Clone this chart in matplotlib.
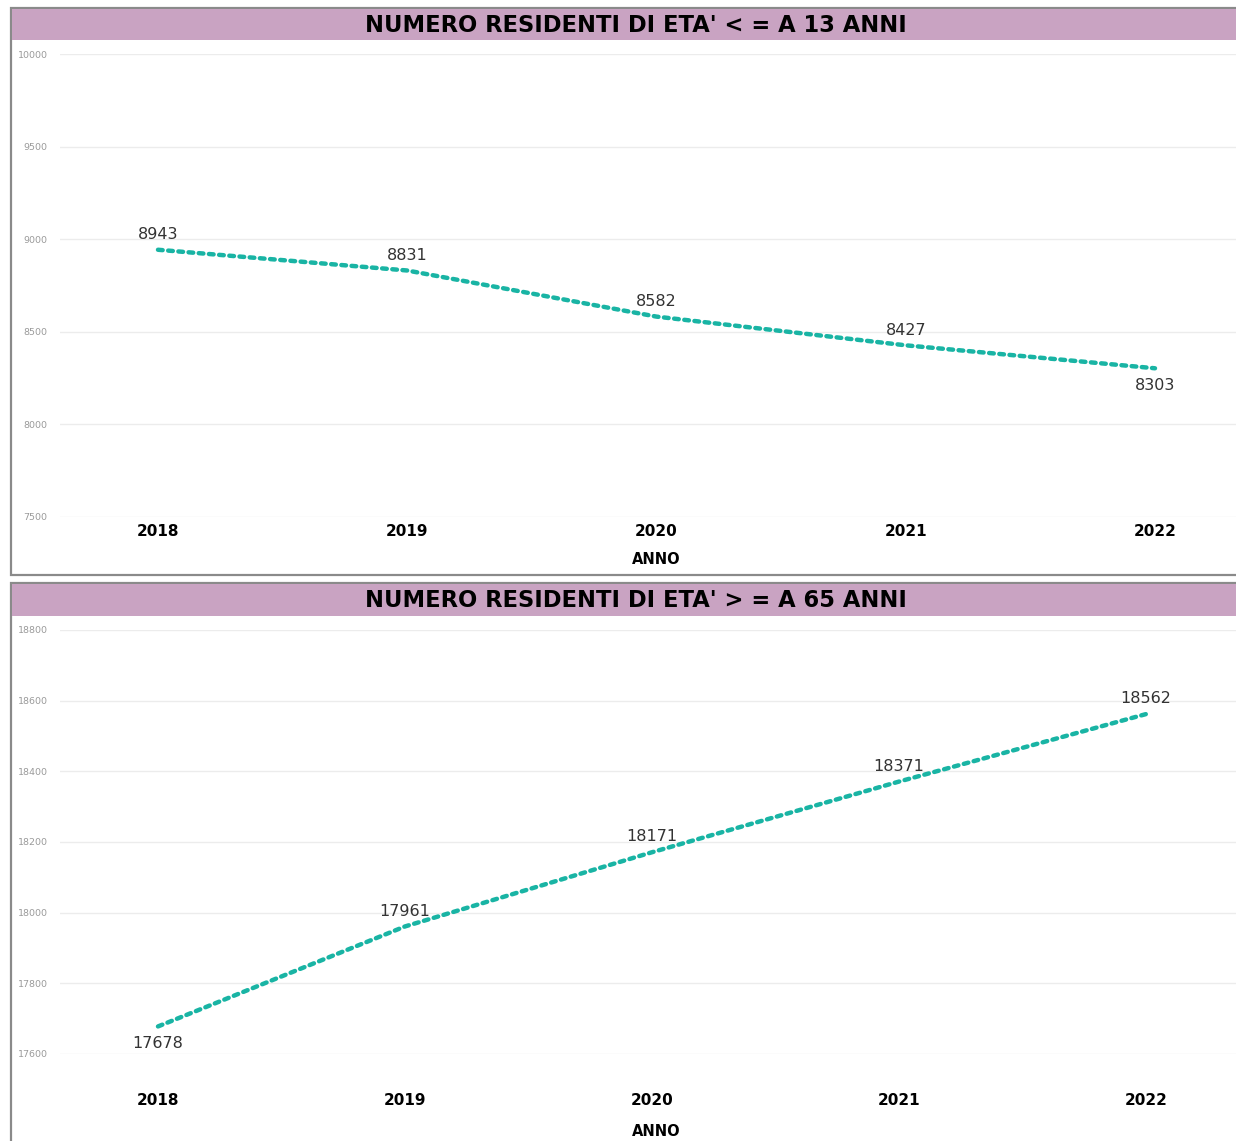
import matplotlib.pyplot as plt
from matplotlib.patches import Rectangle

# data
anni = ['2018', '2019', '2020', '2021', '2022']
under13 = [8943, 8831, 8582, 8427, 8303]
over65 = [17678, 17961, 18171, 18371, 18562]
titles = ["NUMERO RESIDENTI DI ETA' < = A 13 ANNI",
          "NUMERO RESIDENTI DI ETA' > = A 65 ANNI"]

W, H = 1236, 1141
fig = plt.figure(figsize=(W / 100, H / 100), dpi=100)
fig.patch.set_facecolor('white')

band_col = '#c9a3c2'
line_col = '#19b4a4'


def px(x0, y0, x1, y1):
    # pixel box (top-left origin) -> figure fraction rect
    return [x0 / W, 1 - y1 / H, (x1 - x0) / W, (y1 - y0) / H]


def panel(y0, y1, band_bottom, title):
    fig.patches.append(Rectangle((11 / W, 1 - y1 / H), (W + 5 - 11) / W, (y1 - y0) / H,
                                 transform=fig.transFigure, facecolor='white',
                                 edgecolor='#8a8a8a', linewidth=1.6, zorder=-2))
    fig.patches.append(Rectangle((12 / W, 1 - band_bottom / H), (W - 12) / W,
                                 (band_bottom - y0 - 1) / H,
                                 transform=fig.transFigure, facecolor=band_col,
                                 edgecolor='none', zorder=-1))
    fig.text(636 / W, 1 - ((y0 + band_bottom) / 2 + 1) / H, title,
             ha='center', va='center', fontsize=16.3, fontweight='heavy',
             color='black', zorder=2)


def chart(rect, vals, ylim, yticks, below, xlim, xpad, anno_y):
    ax = fig.add_axes(px(*rect))
    x = range(len(vals))
    ax.plot(x, vals, color=line_col, linewidth=3.2,
            dashes=(1.05, 1.25), dash_capstyle='round', zorder=3)
    for i, v in enumerate(vals):
        off = -12.5 if i in below else 11
        ax.annotate(str(v), (i, v), xytext=(0, off), textcoords='offset points',
                    ha='center', va='center', fontsize=11.5, color='#333333')
    ax.set_ylim(*ylim)
    ax.set_xlim(*xlim)
    ax.set_yticks(yticks)
    ax.set_yticklabels([str(t) for t in yticks], fontsize=6.8, color='#9a9a9a')
    ax.set_xticks(list(x))
    ax.set_xticklabels(anni, fontsize=11, fontweight='heavy', color='black')
    ax.tick_params(axis='both', length=0)
    ax.tick_params(axis='x', pad=xpad)
    ax.tick_params(axis='y', pad=9)
    ax.grid(axis='y', color='#ececec', linewidth=1)
    ax.set_axisbelow(True)
    for s in ax.spines.values():
        s.set_visible(False)
    ax.patch.set_alpha(0)
    fig.text(656 / W, 1 - anno_y / H, 'ANNO', ha='center', va='center',
             fontsize=10.5, fontweight='heavy', color='black')
    return ax


panel(8, 575, 40, titles[0])
panel(583, H + 5, 616, titles[1])

step1 = (1155 - 158) / 4
chart((60, 54, 1236, 517), under13, (7500, 10000),
      [7500, 8000, 8500, 9000, 9500, 10000], below=[4],
      xlim=(-(158 - 60) / step1, (1236 - 158) / step1), xpad=5, anno_y=559)

step2 = (1146 - 158) / 4
chart((60, 630, 1236, 1054), over65, (17600, 18800),
      [17600, 17800, 18000, 18200, 18400, 18600, 18800], below=[0],
      xlim=(-(158 - 60) / step2, (1236 - 158) / step2), xpad=28, anno_y=1131)

fig.savefig('out.png', dpi=100)
